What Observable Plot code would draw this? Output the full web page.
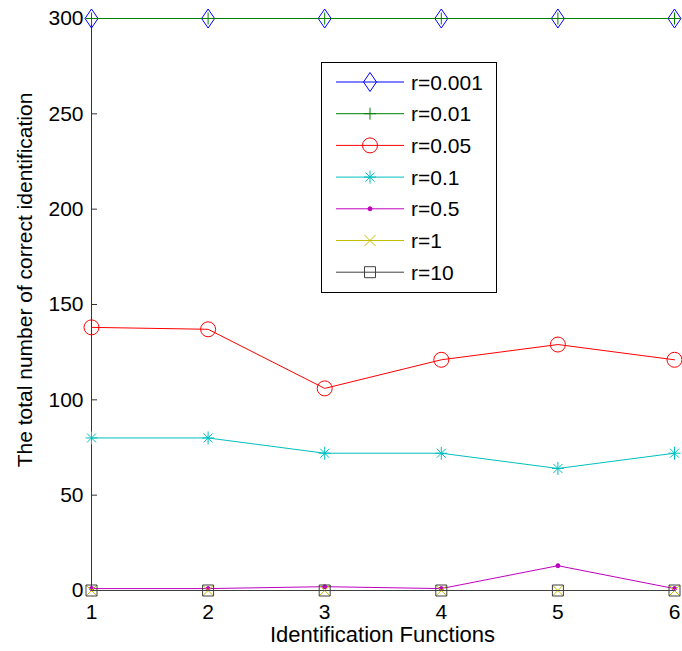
<!DOCTYPE html>
<html><head><meta charset="utf-8">
<script src="https://cdn.jsdelivr.net/npm/d3@7"></script>
<script src="https://cdn.jsdelivr.net/npm/@observablehq/plot@0.6"></script>
<style>body{margin:0;background:#fff} #chart{width:682px;height:651px}</style>
</head><body><div id="chart"></div>
<script>
// ---- data ----
const functions = [1, 2, 3, 4, 5, 6];
const seriesNames = ["r=0.001", "r=0.01", "r=0.05", "r=0.1", "r=0.5", "r=1", "r=10"];
const r0001 = [300, 300, 300, 300, 300, 300];
const r001  = [300, 300, 300, 300, 300, 300];
const r005  = [138, 137, 106, 121, 129, 121];
const r01   = [80, 80, 72, 72, 64, 72];
const r05   = [1, 1, 2, 1, 13, 1];
const r1    = [0, 0, 0, 0, 0, 0];
const r10   = [0, 0, 0, 0, 0, 0];
const yTicks = [0, 50, 100, 150, 200, 250, 300];
const xLabel = "Identification Functions";
const yLabel = "The total number of correct identification";

const seriesValues = [r0001, r001, r005, r01, r05, r1, r10];
const colors = ["#0000ff", "#008000", "#ff0000", "#00bfbf", "#bf00bf", "#bfbf00", "#404040"];

// MATLAB-like marker symbols
const sym = {
  diamond: {draw(c) { c.moveTo(0, -9.5); c.lineTo(6.5, 0); c.lineTo(0, 9.5); c.lineTo(-6.5, 0); c.closePath(); }},
  plus: {draw(c) { c.moveTo(-6, 0); c.lineTo(6, 0); c.moveTo(0, -6); c.lineTo(0, 6); }},
  circle: {draw(c) { c.moveTo(7.5, 0); c.arc(0, 0, 7.5, 0, 2 * Math.PI); c.closePath(); }},
  asterisk: {draw(c) { c.moveTo(-6, 0); c.lineTo(6, 0); c.moveTo(0, -6.5); c.lineTo(0, 6.5);
    c.moveTo(-4.5, -4.5); c.lineTo(4.5, 4.5); c.moveTo(-4.5, 4.5); c.lineTo(4.5, -4.5); }},
  point: {draw(c) { c.moveTo(2, 0); c.arc(0, 0, 2, 0, 2 * Math.PI); c.closePath(); }},
  times: {draw(c) { c.moveTo(-5.5, -5.5); c.lineTo(5.5, 5.5); c.moveTo(-5.5, 5.5); c.lineTo(5.5, -5.5); }},
  square: {draw(c) { c.moveTo(-5.5, -5.5); c.lineTo(5.5, -5.5); c.lineTo(5.5, 5.5); c.lineTo(-5.5, 5.5); c.closePath(); }}
};
const symbols = [sym.diamond, sym.plus, sym.circle, sym.asterisk, sym.point, sym.times, sym.square];
const filled = [false, false, false, false, true, false, false];

const rows = seriesNames.map((name, i) => functions.map((f, j) => ({series: name, f, v: seriesValues[i][j]})));

const font = "'Liberation Sans', Arial, Helvetica, sans-serif";

const marks = [
  Plot.axisY({ticks: yTicks, tickSize: -6, tickPadding: 14, fontSize: 21, label: null, stroke: "#333", color: "#000"}),
  Plot.axisX({ticks: functions, tickSize: 0, tickPadding: 14, fontSize: 21, label: null, tickFormat: d => String(d), color: "#000"}),
  Plot.ruleX([1], {stroke: "#333"})
];
rows.forEach((data, i) => {
  marks.push(Plot.line(data, {x: "f", y: "v", stroke: colors[i], strokeWidth: 1}));
  marks.push(Plot.dot(data, {x: "f", y: "v", symbol: symbols[i], stroke: colors[i],
    fill: filled[i] ? colors[i] : "none", strokeWidth: 1}));
});

const svg = Plot.plot({
  width: 682, height: 651,
  marginLeft: 91, marginRight: 8, marginTop: 18, marginBottom: 61,
  style: {fontFamily: font, background: "#fff", color: "#000"},
  x: {domain: [1, 6]},
  y: {domain: [0, 300]},
  marks
});

const s = d3.select(svg);
// axis titles
s.append("text").attr("x", 382.5).attr("y", 642).attr("text-anchor", "middle")
  .attr("font-family", font).attr("font-size", 22).attr("fill", "#000").text(xLabel);
s.append("text").attr("transform", "translate(32,280) rotate(-90)").attr("text-anchor", "middle")
  .attr("font-family", font).attr("font-size", 21).attr("fill", "#000").text(yLabel);

// legend
const lg = s.append("g");
lg.append("rect").attr("x", 321.5).attr("y", 62.5).attr("width", 175).attr("height", 230)
  .attr("fill", "#fff").attr("stroke", "#000").attr("stroke-width", 1);
seriesNames.forEach((name, i) => {
  const y = 82 + i * 31.7;
  lg.append("line").attr("x1", 336).attr("x2", 404).attr("y1", y).attr("y2", y)
    .attr("stroke", colors[i]).attr("stroke-width", 1);
  lg.append("path").attr("transform", `translate(370,${y})`).attr("d", d3.symbol(symbols[i])())
    .attr("stroke", colors[i]).attr("fill", filled[i] ? colors[i] : "none").attr("stroke-width", 1);
  lg.append("text").attr("x", 411).attr("y", y).attr("dy", "0.36em").attr("text-anchor", "start")
    .attr("font-family", font).attr("font-size", 21).attr("fill", "#000").text(name);
});

document.getElementById("chart").appendChild(svg);
</script>
</body></html>
